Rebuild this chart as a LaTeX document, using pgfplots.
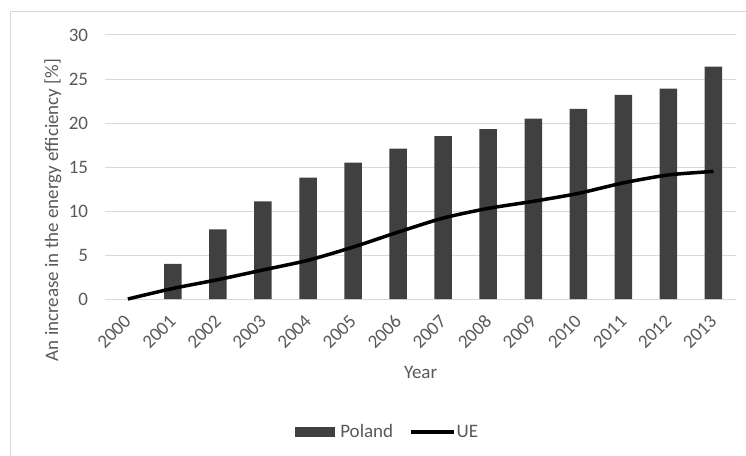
\documentclass[border=0pt]{standalone}
\usepackage{fontspec}
\setmainfont{Carlito}
\usepackage{pgfplots}
\pgfplotsset{compat=1.18}
\definecolor{txtgray}{HTML}{595959}
\definecolor{gridgray}{HTML}{D9D9D9}
\definecolor{bardark}{HTML}{404040}
\newcommand{\chartfont}{\fontsize{19}{23}\selectfont}

\begin{document}
\begin{tikzpicture}[x=1pt,y=1pt]
\useasboundingbox (0,0) rectangle (746,455);
% chart frame
\draw[gridgray, line width=1pt] (10,-5) -- (10,443) -- (750,443);
\begin{axis}[
  at={(105.3pt,156pt)}, anchor=south west,
  scale only axis, width=630.7pt, height=264pt,
  xmin=-0.5, xmax=13.5, ymin=0, ymax=30,
  clip=false,
  axis line style={draw=none},
  major tick length=0pt,
  ymajorgrids, grid style={gridgray, line width=1pt},
  ytick={0,5,...,30},
  xtick={0,...,13},
  xticklabels={2000,2001,2002,2003,2004,2005,2006,2007,2008,2009,2010,2011,2012,2013},
  /pgf/number format/assume math mode=true,
  tick label style={font=\chartfont, text=txtgray},
  yticklabel style={anchor=east, inner sep=0pt, xshift=-17pt},
  xticklabel style={yshift=-19pt, rotate=45, anchor=east, inner sep=0pt},
  label style={font=\chartfont, text=txtgray},
  xlabel={Year},
  xlabel style={at={(axis description cs:0.5,-0.28)}, anchor=center},
  ylabel={An increase in the energy efficiency [\%]},
  ylabel style={at={(axis description cs:-0.083,0.337)}, anchor=center},
  legend columns=2,
  legend style={draw=none, at={(0.447,-0.504)}, anchor=center,
    font=\chartfont, text=txtgray,
    /tikz/every even column/.append style={column sep=15pt},
    nodes={inner sep=1pt}},
]
\addplot[ybar, fill=bardark, draw=none, bar width=17.5pt,
  legend image code/.code={\fill[bardark] (0pt,-5pt) rectangle (40pt,5pt); \path (44pt,0pt);}]
  coordinates {(1,4.0) (2,7.9) (3,11.1) (4,13.8) (5,15.5) (6,17.1) (7,18.5)
               (8,19.3) (9,20.5) (10,21.6) (11,23.2) (12,23.9) (13,26.4)};
\addlegendentry{Poland}
\addplot[black, line width=3.5pt, smooth, tension=0.4,
  legend image code/.code={\draw[black, line width=3.5pt] (0pt,0pt) -- (43pt,0pt);}]
  coordinates {(0,0) (1,1.2) (2,2.2) (3,3.3) (4,4.4) (5,5.9) (6,7.6) (7,9.2)
               (8,10.3) (9,11.1) (10,12.0) (11,13.2) (12,14.1) (13,14.5)};
\addlegendentry{UE}
\end{axis}
\end{tikzpicture}
\end{document}
